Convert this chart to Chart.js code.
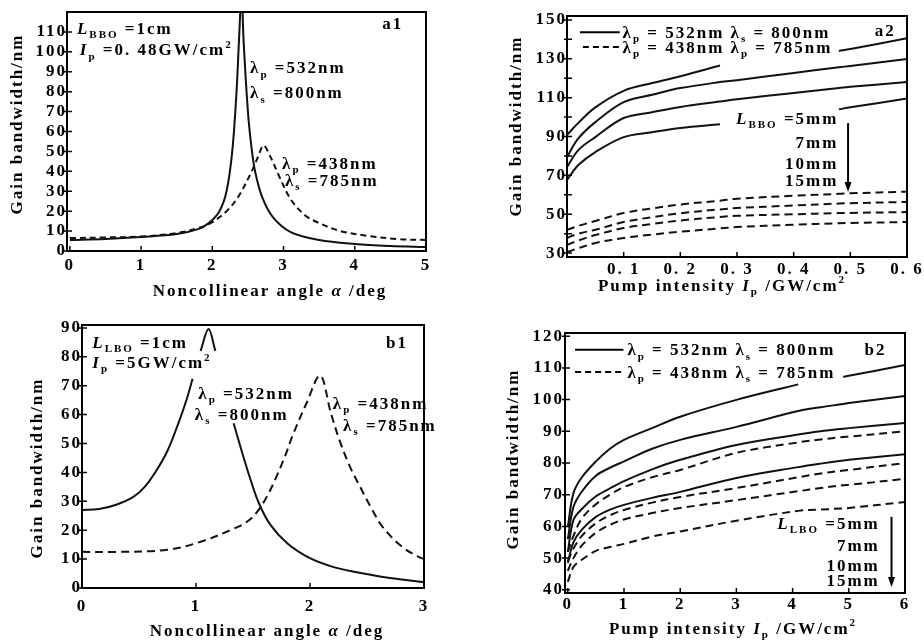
<!DOCTYPE html>
<html>
<head>
<meta charset="utf-8">
<script src="https://cdn.jsdelivr.net/npm/chart.js@4.4.0/dist/chart.umd.min.js"></script>
<style>
  body { margin: 0; background: #fff; width: 924px; height: 642px; position: relative; overflow: hidden; }
  canvas { position: absolute; }
</style>
</head>
<body>
<canvas id="a1" width="450" height="305" style="left:0;top:0"></canvas>
<canvas id="a2" width="464" height="305" style="left:460px;top:0"></canvas>
<canvas id="b1" width="460" height="337" style="left:0;top:305px"></canvas>
<canvas id="b2" width="464" height="337" style="left:460px;top:305px"></canvas>
<script>
// ---- a1: bandwidth vs noncollinear angle, Ip = 0.48 GW/cm2 ----
const a1SolidX = [0, 0.5, 1, 1.5, 1.8, 1.95, 2.1, 2.2, 2.28, 2.34, 2.38, 2.41, 2.44, 2.5, 2.55, 2.6, 2.7, 2.85, 3.1, 3.5, 4, 4.5, 5]
const a1SolidY = [5.5, 6, 7, 8.5, 11, 14, 20, 30, 50, 80, 110, 130, 105, 70, 52, 40, 27, 17, 9.5, 5.5, 3.5, 2.5, 2]
const a1DashX = [0, 0.5, 1, 1.5, 1.8, 2.0, 2.2, 2.36, 2.54, 2.65, 2.72, 2.82, 2.92, 3.1, 3.3, 3.5, 3.8, 4.2, 4.6, 5]
const a1DashY = [6.5, 6.8, 7.3, 9, 11.5, 14.5, 20, 27, 39, 48, 53, 47, 39, 26, 18, 14, 10, 7.5, 6, 5.5]
const a1TicksX = [0, 1, 2, 3, 4, 5]
const a1TicksY = [0, 10, 20, 30, 40, 50, 60, 70, 80, 90, 100, 110]

// ---- b1: bandwidth vs noncollinear angle, Ip = 5 GW/cm2 (null = hidden under label) ----
const b1SolidX = [0, 0.15, 0.3, 0.45, 0.55, 0.65, 0.75, 0.85, 0.92, 0.97, 1.0, 1.04, 1.11, 1.17, 1.25, 1.33, 1.4, 1.47, 1.55, 1.65, 1.8, 2.0, 2.2, 2.4, 2.64, 3]
const b1SolidY = [27, 27.3, 28.8, 31.5, 35, 40.5, 47.5, 57.5, 65.5, 72.4, null, 82, 89.6, 82, null, 57, 47.5, 38.5, 29.5, 22, 15.5, 10.3, 7.3, 5.5, 3.8, 2]
const b1DashX = [0, 0.3, 0.75, 1.04, 1.33, 1.45, 1.54, 1.62, 1.7, 1.78, 1.85, 1.97, 2.09, 2.18, 2.26, 2.35, 2.44, 2.54, 2.64, 2.8, 2.94, 3]
const b1DashY = [12.5, 12.5, 13.2, 16, 20.5, 23, 26.5, 31.5, 38, 45.5, 53, 64, 73.5, 61, 51, 42, 35, 27.5, 21, 14.5, 11, 10]
const b1TicksX = [0, 1, 2, 3]
const b1TicksY = [0, 10, 20, 30, 40, 50, 60, 70, 80, 90]

// ---- a2: bandwidth vs pump intensity, L = 5, 7, 10, 15 mm ----
const a2X = [0, 0.02, 0.05, 0.1, 0.15, 0.2, 0.27, 0.3, 0.4, 0.48, 0.5, 0.6]
const a2Solid5 = [90.8, 97, 105, 113.5, 117.5, 121, 126.5, null, null, 134, 135, 140.5]
const a2Solid7 = [79.5, 89, 97.4, 107.7, 111.5, 114.9, 118, 119, 122.7, 125.6, 126.3, 129.9]
const a2Solid10 = [74.3, 83, 89.7, 99.5, 102.5, 105.2, 108, 109.2, 112.4, 115, 115.6, 118]
const a2Solid15 = [67.6, 75.3, 82, 89.7, 92.2, 94.4, 96.3, null, null, 104, 105, 109.5]
const a2Dash5 = [41.9, 44, 46.5, 50.6, 53, 55, 57, 58, 59.5, 60.5, 60.8, 61.6]
const a2Dash7 = [37.8, 40, 42, 46, 48.5, 50.5, 52.5, 53.2, 54.5, 55.5, 55.7, 56.3]
const a2Dash10 = [34.2, 36.5, 39.3, 42.9, 45, 46.8, 48.6, 49.2, 50, 50.6, 50.7, 51.1]
const a2Dash15 = [30.6, 32.5, 35.2, 37.8, 39.5, 41, 42.7, 43.4, 44.6, 45.4, 45.5, 46]
const a2TicksX = [0.1, 0.2, 0.3, 0.4, 0.5, 0.6]
const a2TicksY = [30, 50, 70, 90, 110, 130, 150]
const a2MinorY = [40, 60, 80, 100, 120, 140]

// ---- b2: bandwidth vs pump intensity, L = 5, 7, 10, 15 mm ----
const b2X = [0, 0.1, 0.25, 0.5, 0.75, 1, 1.5, 2, 3, 4.1, 4.5, 4.9, 5, 6]
const b2Solid5 = [59.8, 70.5, 75.5, 80.5, 84.5, 87.3, 91, 94.6, 99.9, 104.8, null, 107.2, 107.5, 110.9]
const b2Solid7 = [56, 66.1, 71, 76, 78.5, 80.5, 84.5, 87.3, 91.4, 96.4, 97.6, 98.6, 98.9, 101.1]
const b2Solid10 = [52, 62, 65.5, 69.5, 72, 74.3, 78, 81, 85.7, 89, 90, 90.8, 91, 92.6]
const b2Solid15 = [48.5, 55, 59, 63, 65.3, 66.8, 69, 70.9, 75.3, 78.7, 79.8, 80.8, 81, 82.8]
const b2Dash5 = [52, 57, 62.5, 67, 70, 72.4, 75.5, 77.8, 83.2, 86.5, 87.4, 88.2, 88.3, 90]
const b2Dash7 = [49, 53, 57, 61, 63.5, 65.2, 67.5, 69.3, 72.1, 75.5, 76.7, 77.6, 77.8, 80]
const b2Dash10 = [46, 50, 54, 58, 60.5, 62.2, 64.2, 65.8, 68.3, 71.1, 72.1, 73, 73.1, 75]
const b2Dash15 = [42.5, 47.2, 49.5, 52.3, 53.5, 54.5, 56.8, 58.4, 61.8, 64.9, 65.3, 65.7, 65.8, 67.7]
const b2TicksX = [0, 1, 2, 3, 4, 5, 6]
const b2TicksY = [40, 50, 60, 70, 80, 90, 100, 110, 120]

// ---- text pieces: [text, style] with style '', 'i', 'sub', 'sup' ----
const FAMILY = '"Liberation Serif", "Times New Roman", serif'
const SIZE = 17
const yTitle = [['Gain bandwidth/nm', '']]
const angleTitle = [['Noncollinear angle ', ''], ['α', 'i'], [' /deg', '']]
const pumpTitle = [['Pump intensity ', ''], ['I', 'i'], ['p', 'sub'], [' /GW/cm', ''], ['2', 'sup']]
const lam = (s, v) => [['λ', ''], [s, 'sub'], [v, '']]
const lamPair = (s1, v1, s2, v2) => lam(s1, v1).concat([[' ', '']], lam(s2, v2))

const DASH = [8, 5]
const solid = (x, y) => ({ x, y, dash: [] })
const dashed = (x, y, d) => ({ x, y, dash: d || DASH })

const panels = {
    a1: {
        yWidth: 67, xHeight: 54, pad: { top: 12, right: 24 },
        x: { min: -0.04, max: 5, ticks: a1TicksX, pad: 4 },
        y: { min: 0, max: 120, ticks: a1TicksY, pad: 0 },
        series: [solid(a1SolidX, a1SolidY), dashed(a1DashX, a1DashY, [6, 4])],
        yTitleAt: [16, 124], xTitleAt: [270, 290], xTitle: angleTitle,
        texts: [
            { at: [0.1, 112], parts: [['L', 'i'], ['BBO', 'sub'], [' =1cm', '']] },
            { at: [0.14, 101], parts: [['I', 'i'], ['p', 'sub'], [' =0. 48GW/cm', ''], ['2', 'sup']] },
            { at: [4.68, 114.5], parts: [['a1', '']], align: 'right' },
            { at: [2.53, 92], parts: lam('p', ' =532nm') },
            { at: [2.53, 79.5], parts: lam('s', ' =800nm') },
            { at: [2.98, 44], parts: lam('p', ' =438nm') },
            { at: [3.02, 35.5], parts: lam('s', ' =785nm') }
        ]
    },
    b1: {
        yWidth: 82, xHeight: 54, pad: { top: 20, right: 36 },
        x: { min: 0, max: 3, ticks: b1TicksX, pad: 8 },
        y: { min: 0, max: 91, ticks: b1TicksY, pad: 0 },
        series: [solid(b1SolidX, b1SolidY), dashed(b1DashX, b1DashY)],
        yTitleAt: [36, 163], xTitleAt: [267, 325], xTitle: angleTitle,
        texts: [
            { at: [0.09, 85], parts: [['L', 'i'], ['LBO', 'sub'], [' =1cm', '']] },
            { at: [0.09, 78], parts: [['I', 'i'], ['p', 'sub'], [' =5GW/cm', ''], ['2', 'sup']] },
            { at: [2.86, 85], parts: [['b1', '']], align: 'right' },
            { at: [1.02, 67.5], parts: lam('p', ' =532nm') },
            { at: [0.99, 60], parts: lam('s', ' =800nm') },
            { at: [2.2, 64], parts: lam('p', ' =438nm') },
            { at: [2.29, 56.4], parts: lam('s', ' =785nm') }
        ]
    },
    a2: {
        yWidth: 107, xHeight: 48, pad: { top: 16, right: 17 },
        x: { min: 0, max: 0.6, ticks: a2TicksX, pad: 2, fmt: v => v.toFixed(1).replace('.', '. ') },
        y: { min: 28, max: 152, ticks: a2TicksY, minor: a2MinorY, pad: 0 },
        series: [
            solid(a2X, a2Solid5), solid(a2X, a2Solid7), solid(a2X, a2Solid10), solid(a2X, a2Solid15),
            dashed(a2X, a2Dash5), dashed(a2X, a2Dash7), dashed(a2X, a2Dash10), dashed(a2X, a2Dash15)
        ],
        yTitleAt: [55, 126], xTitleAt: [262, 285], xTitle: pumpTitle,
        keys: [
            { from: [0.023, 143.7], to: [0.093, 143.7], dash: [] },
            { from: [0.028, 136], to: [0.093, 136], dash: [6, 4] }
        ],
        arrows: [{ x: 0.496, y1: 96.9, y2: 61.4 }],
        texts: [
            { at: [0.098, 143.7], parts: lamPair('p', ' = 532nm', 's', ' = 800nm') },
            { at: [0.098, 136], parts: lamPair('p', ' = 438nm', 'p', ' = 785nm') },
            { at: [0.58, 144.8], parts: [['a2', '']], align: 'right' },
            { at: [0.479, 99.5], parts: [['L', 'i'], ['BBO', 'sub'], [' =5mm', '']], align: 'right' },
            { at: [0.479, 87.2], parts: [['7mm', '']], align: 'right' },
            { at: [0.479, 76.4], parts: [['10mm', '']], align: 'right' },
            { at: [0.479, 67.6], parts: [['15mm', '']], align: 'right' }
        ]
    },
    b2: {
        yWidth: 105, xHeight: 49, pad: { top: 28, right: 19 },
        x: { min: -0.05, max: 6, ticks: b2TicksX, pad: 1 },
        y: { min: 39, max: 121, ticks: b2TicksY, pad: 1 },
        series: [
            solid(b2X, b2Solid5), solid(b2X, b2Solid7), solid(b2X, b2Solid10), solid(b2X, b2Solid15),
            dashed(b2X, b2Dash5), dashed(b2X, b2Dash7), dashed(b2X, b2Dash10), dashed(b2X, b2Dash15)
        ],
        yTitleAt: [52, 154], xTitleAt: [273, 323], xTitle: pumpTitle,
        keys: [
            { from: [0.13, 115.7], to: [0.99, 115.7], dash: [] },
            { from: [0.13, 108.7], to: [1.02, 108.7], dash: [6, 4] }
        ],
        arrows: [{ x: 5.76, y1: 63, y2: 40.9 }],
        texts: [
            { at: [1.06, 115.7], parts: lamPair('p', ' = 532nm', 's', ' = 800nm') },
            { at: [1.06, 108.7], parts: lamPair('p', ' = 438nm', 's', ' = 785nm') },
            { at: [5.67, 115.7], parts: [['b2', '']], align: 'right' },
            { at: [5.55, 61.1], parts: [['L', 'i'], ['LBO', 'sub'], [' =5mm', '']], align: 'right' },
            { at: [5.55, 54.1], parts: [['7mm', '']], align: 'right' },
            { at: [5.55, 47.8], parts: [['10mm', '']], align: 'right' },
            { at: [5.55, 43.1], parts: [['15mm', '']], align: 'right' }
        ]
    }
}

function partFont(style) {
    const small = style === 'sub' || style === 'sup'
    const size = small ? Math.round(SIZE * 0.62) : SIZE
    return (style === 'i' ? 'italic ' : '') + 'bold ' + size + 'px ' + FAMILY
}

// draws mixed text, cy is the vertical middle of the main letters
function drawRich(ctx, parts, x, cy, align) {
    let w = 0
    for (const [t, st] of parts) {
        ctx.font = partFont(st)
        w += ctx.measureText(t).width
    }
    let cx = align === 'right' ? x - w : align === 'center' ? x - w / 2 : x
    const base = cy + SIZE * 0.33
    ctx.textAlign = 'left'
    ctx.textBaseline = 'alphabetic'
    for (const [t, st] of parts) {
        ctx.font = partFont(st)
        const dy = st === 'sub' ? SIZE * 0.25 : st === 'sup' ? -SIZE * 0.42 : 0
        ctx.fillText(t, cx, base + dy)
        cx += ctx.measureText(t).width
    }
}

const decor = {
    id: 'decor',
    beforeDraw(chart) {
        chart.ctx.letterSpacing = '2px'
    },
    afterDraw(chart) {
        const p = panels[chart.canvas.id]
        const { ctx, chartArea: a } = chart
        const sx = chart.scales.x, sy = chart.scales.y
        ctx.save()
        ctx.letterSpacing = '2px'
        ctx.strokeStyle = '#000'
        ctx.fillStyle = '#000'
        ctx.setLineDash([])

        ctx.lineWidth = 2
        ctx.strokeRect(a.left, a.top, a.right - a.left, a.bottom - a.top)

        ctx.lineWidth = 1.5
        ctx.beginPath()
        for (const v of p.x.ticks) {
            const px = sx.getPixelForValue(v)
            ctx.moveTo(px, a.bottom)
            ctx.lineTo(px, a.bottom - 5)
        }
        for (const v of p.y.ticks.concat(p.y.minor || [])) {
            const py = sy.getPixelForValue(v)
            ctx.moveTo(a.left - 3, py)
            ctx.lineTo(a.left + 5, py)
        }
        ctx.stroke()

        ctx.lineWidth = 2
        for (const k of p.keys || []) {
            ctx.setLineDash(k.dash)
            ctx.beginPath()
            ctx.moveTo(sx.getPixelForValue(k.from[0]), sy.getPixelForValue(k.from[1]))
            ctx.lineTo(sx.getPixelForValue(k.to[0]), sy.getPixelForValue(k.to[1]))
            ctx.stroke()
        }
        ctx.setLineDash([])

        for (const ar of p.arrows || []) {
            const px = sx.getPixelForValue(ar.x)
            const top = sy.getPixelForValue(ar.y1), tip = sy.getPixelForValue(ar.y2)
            ctx.beginPath()
            ctx.moveTo(px, top)
            ctx.lineTo(px, tip - 8)
            ctx.stroke()
            ctx.beginPath()
            ctx.moveTo(px - 3.5, tip - 10)
            ctx.lineTo(px + 3.5, tip - 10)
            ctx.lineTo(px, tip)
            ctx.closePath()
            ctx.fill()
        }

        for (const t of p.texts) {
            drawRich(ctx, t.parts, sx.getPixelForValue(t.at[0]), sy.getPixelForValue(t.at[1]), t.align)
        }

        drawRich(ctx, p.xTitle, p.xTitleAt[0], p.xTitleAt[1], 'center')
        ctx.translate(p.yTitleAt[0], p.yTitleAt[1])
        ctx.rotate(-Math.PI / 2)
        drawRich(ctx, yTitle, 0, 0, 'center')
        ctx.restore()
    }
}

function makeChart(id) {
    const p = panels[id]
    const tickFont = { family: FAMILY, size: SIZE, weight: 'bold' }
    new Chart(document.getElementById(id), {
        type: 'line',
        data: {
            datasets: p.series.map(s => ({
                data: s.x.map((v, i) => ({ x: v, y: s.y[i] })),
                borderColor: '#111',
                borderWidth: 2,
                borderDash: s.dash,
                pointRadius: 0,
                fill: false,
                spanGaps: false,
                tension: 0.35
            }))
        },
        options: {
            responsive: false,
            animation: false,
            events: [],
            layout: { padding: { left: 0, top: p.pad.top, right: p.pad.right, bottom: 0 } },
            plugins: { legend: { display: false }, tooltip: { enabled: false } },
            scales: {
                x: {
                    type: 'linear',
                    min: p.x.min,
                    max: p.x.max,
                    afterBuildTicks: s => { s.ticks = p.x.ticks.map(v => ({ value: v })) },
                    afterFit: s => { s.height = p.xHeight },
                    grid: { display: false, drawTicks: false },
                    border: { display: false },
                    ticks: {
                        autoSkip: false, maxRotation: 0, padding: p.x.pad, color: '#000', font: tickFont,
                        callback: v => p.x.fmt ? p.x.fmt(v) : String(v)
                    }
                },
                y: {
                    type: 'linear',
                    min: p.y.min,
                    max: p.y.max,
                    afterBuildTicks: s => { s.ticks = p.y.ticks.map(v => ({ value: v })) },
                    afterFit: s => { s.width = p.yWidth },
                    grid: { display: false, drawTicks: false },
                    border: { display: false },
                    ticks: { autoSkip: false, padding: p.y.pad, color: '#000', font: tickFont, callback: v => String(v) }
                }
            }
        },
        plugins: [decor]
    })
}

['a1', 'a2', 'b1', 'b2'].forEach(makeChart)
</script>
</body>
</html>
